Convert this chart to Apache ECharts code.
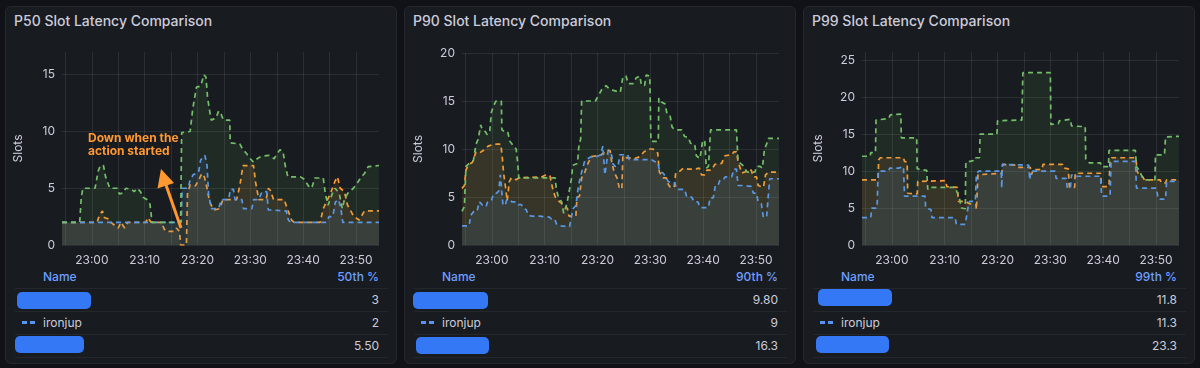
<!DOCTYPE html>
<html><head><meta charset="utf-8">
<script src="https://cdn.jsdelivr.net/npm/echarts@6/dist/echarts.min.js"></script>
<style>
html,body{margin:0;padding:0;background:#111217;width:1200px;height:368px;overflow:hidden;font-family:Inter,"Noto Sans",sans-serif;}
.panel{position:absolute;top:6px;width:392px;height:358px;box-sizing:border-box;background:#181b1f;border:1px solid #25282e;border-radius:6px;}
.abs{position:absolute;white-space:nowrap;}
.title{font-size:14px;font-weight:500;color:#ccccdc;line-height:16px;}
.hdr{font-size:12px;font-weight:500;color:#6e9fff;line-height:16px;}
.cell{font-size:12px;color:#ccccdc;line-height:16px;}
.sep{position:absolute;height:1px;background:#24272c;}
.redact{position:absolute;background:#3478f6;border-radius:5px;}
#chart{position:absolute;left:0;top:0;width:1200px;height:368px;}
</style></head>
<body>
<div id="root"></div>
<div id="chart"></div>
<script>
// ---------- DATA ----------
const titles = ['P50 Slot Latency Comparison', 'P90 Slot Latency Comparison', 'P99 Slot Latency Comparison'];
const statHeaders = ['50th %', '90th %', '99th %'];
const legendNames = ['', 'ironjup', ''];           // first and last names are redacted in the source
const legendValues = [['3', '2', '5.50'], ['9.80', '9', '16.3'], ['11.8', '11.3', '23.3']];
const yMax = [17, 20, 26.1];
const yAxisName = 'Slots';
const annotation = 'Down when the\naction started';
// time in minutes relative to 23:00
const timeRange = [-5.65, 54.35];

// P50
const p50Orange = [[-5.65,2],[1.0,2],[1.4,2.6],[2.0,3],[2.4,2.4],[3.2,2.3],[3.6,2.0],[4.4,1.7],[5.0,1.5],[5.5,2],[6.2,1.5],[6.8,2],[10.2,2],[10.6,2.4],[11.2,2],[13.2,2],[13.6,1.5],[14,1.2],[15.6,1.2],[16,1.5],[16.6,1.2],[16.8,0],[17.9,0],[18.1,4.5],[18.6,5.3],[19.6,5.2],[20.3,5.8],[20.8,6.3],[21.3,6.0],[21.8,5],[22.2,4],[22.6,3.5],[23.2,3.1],[24.2,3.2],[24.8,4],[27.4,4],[28,5.2],[28.6,7],[30.6,7],[31,5.5],[31.6,4],[33,4],[33.4,5],[33.8,4.8],[34.4,4],[36.4,4],[37,3.2],[37.8,2.2],[38.3,2],[43.2,2],[43.8,3.2],[44.6,4],[45.3,4.7],[46,5.6],[46.5,6],[47,5],[47.8,4.7],[48.4,3.5],[49,3],[49.6,2.5],[50.6,2.2],[51.6,3],[54.35,3]];
const p50Blue = [[-5.65,2],[16.9,2],[17.1,5],[18.2,5],[18.6,5.7],[19.2,6.2],[20.2,6.4],[20.6,7.5],[21.4,7.9],[21.8,7],[22.1,4.5],[22.6,3.2],[24.0,3.2],[24.5,4],[25.9,4],[26.2,4.9],[26.8,4.9],[27.1,4],[28.4,4],[28.7,3.2],[30.3,3.2],[30.6,4],[31.6,4],[32.2,4.7],[33.1,4.7],[33.4,3.1],[36.8,3],[37.2,2.2],[37.6,2],[44.4,2],[44.9,2.5],[45.6,2.5],[46.1,3.8],[46.7,4],[47.1,3.3],[47.5,2],[54.35,2]];
const p50Green = [[-5.65,2],[-2.3,2],[-2.0,4.2],[-1.7,5],[0.6,5],[1.2,6.5],[1.6,7],[2.2,7],[2.6,6],[3.0,5.5],[3.4,5],[4.8,5],[5.2,4.5],[6,4.6],[6.4,5],[7.5,4.9],[8.0,4.7],[8.6,5],[9.2,4.7],[9.7,4.2],[10.4,4],[11,3.6],[11.4,2],[16.8,2],[17,9.9],[18.6,10],[19.1,12],[19.8,13.9],[20.6,14],[21.2,15],[21.6,14.8],[21.9,13],[22.3,11.8],[22.6,11],[23.5,11.2],[24,11.8],[24.5,11.5],[24.9,11],[26.1,11],[26.2,9],[28,8.9],[28.6,8.4],[29.2,8.1],[30,7.6],[30.6,7.3],[31.3,7.6],[32,7.8],[33.5,7.9],[34.5,7.6],[35,8],[35.6,8.4],[36.2,8.2],[36.6,7],[37.1,6],[39.5,6],[40.2,5.8],[41,5.2],[41.6,5],[42.2,5.9],[43.8,5.9],[44.2,4.5],[44.7,3.5],[45.5,4.5],[46,5],[46.8,4.6],[47.4,3.2],[47.8,4],[48.5,4.6],[49.5,5],[50.3,5.5],[51,6],[51.6,6.3],[52.3,6.9],[54.35,7]];

// P90
const p90Orange = [[-5.65,5.9],[-5.2,6.2],[-4.9,7.8],[-4.4,8.4],[-3.7,8.6],[-3.0,9.7],[-2.3,9.6],[-1.5,9.9],[-0.7,10.3],[0.3,10.5],[1.7,10.5],[2.0,9],[2.2,7.6],[2.6,6],[2.9,4.6],[3.3,6.6],[3.7,7],[4.6,6.8],[5.2,7],[9.5,7.1],[10.2,7.3],[11.0,7.2],[11.5,5.9],[12.0,5],[12.8,4.5],[13.6,4.2],[14.3,3.8],[14.6,3],[15.9,3],[16.1,4.9],[16.6,5.1],[17.0,7],[17.6,7.6],[18.2,8.5],[18.8,9.2],[19.8,9.3],[20.7,9.4],[21.2,9.6],[21.9,9.9],[22.4,9.8],[22.7,8.6],[23.2,7.5],[23.7,7],[24.1,6],[24.6,5.8],[24.8,9.3],[25.2,9.1],[27.0,9],[28.0,9.2],[28.8,9.7],[29.6,10],[30.5,10],[30.9,9.7],[31.4,9.6],[31.7,7.6],[32.4,7.0],[33.0,7],[33.4,6.3],[33.8,6],[34.5,6],[34.8,7.5],[35.6,7.7],[36.2,8],[37.2,7.9],[38.4,7.9],[39.3,8],[39.7,7.3],[40.3,7.3],[40.7,7.8],[41.6,7.8],[42.2,8.4],[43.5,8.5],[44.1,9.3],[45.4,9.4],[45.8,9.7],[46.3,9.7],[46.6,8.7],[47.3,7.5],[47.9,7.6],[48.3,7.8],[49.1,7.8],[49.5,7.1],[50.1,7.1],[50.4,6.2],[51.4,6],[51.8,7.3],[52.4,7.6],[54.35,7.6]];
const p90Blue = [[-5.65,2],[-4.3,2],[-4.0,3.1],[-3.4,3.5],[-2.8,3.5],[-2.4,4.5],[-2.0,4.3],[-1.6,4],[-1.1,4],[-0.8,4.5],[-0.1,4.6],[0.3,5.3],[0.9,5.4],[1.3,5.6],[1.6,7.3],[1.9,7.2],[2.1,4.2],[2.5,4.1],[2.8,4.7],[3.3,4.7],[3.8,4.5],[4.6,4.5],[5.0,4.2],[5.6,4.2],[6.0,3.8],[6.5,3.7],[6.9,3.1],[7.6,3],[9.0,3],[10.9,2.9],[11.3,2.7],[11.9,2.7],[12.3,2.1],[13.1,2],[14.7,1.9],[15.0,2.8],[15.4,3.8],[15.9,4.1],[16.1,5],[16.4,6.2],[17.0,7.6],[17.6,8.8],[18.2,9],[18.8,9.2],[19.8,9.2],[20.6,9.4],[21.0,10.3],[21.3,10.2],[21.4,7.3],[21.6,7.5],[22.0,9.8],[22.6,9.6],[22.9,8.5],[23.3,8.2],[23.9,8.2],[24.2,9.4],[25.7,9.4],[26.0,8.9],[30.2,8.9],[30.8,8.7],[31.4,8.6],[31.8,7.6],[32.4,7.5],[32.8,7.2],[33.4,6.6],[34.6,6.5],[35.0,5.8],[36.5,5.8],[36.9,5],[37.8,5],[38.3,4.5],[39.0,4.5],[39.4,3.9],[41.0,3.9],[41.3,4.9],[41.9,4.9],[42.3,6.2],[42.8,6.2],[43.2,6.8],[43.8,6.8],[44.2,7.1],[45.4,7.1],[45.8,7.9],[46.3,7.9],[46.6,6.2],[47.4,6.2],[47.7,6.1],[49.1,6.1],[49.5,5.4],[50.1,5.4],[50.4,4.5],[51.0,4.3],[51.4,2.9],[52.0,2.9],[52.3,5],[52.6,6.9],[54.35,6.9]];
const p90Green = [[-5.65,3.5],[-5.2,4],[-4.9,8.2],[-4.5,8.4],[-3.5,8.8],[-3.0,10.5],[-2.6,11],[-2.1,12.5],[-1.8,12],[-1.2,11.8],[-0.9,11.5],[-0.4,11.8],[-0.1,13.8],[0.3,14.5],[0.8,15],[1.8,15],[1.9,12],[2.4,11.8],[3.0,11.8],[3.4,10.8],[4.0,10.4],[4.6,10],[4.9,8.5],[5.1,7],[12.0,7],[12.2,5.8],[12.6,5],[13.2,4.5],[13.6,3.3],[13.9,3.3],[14.2,4.3],[14.7,5.8],[15.1,7],[15.3,8.3],[16.2,8.5],[16.5,10.5],[16.8,11],[17.0,15],[19.6,15],[20.2,15.6],[20.8,16.2],[21.6,16.6],[22.2,16.3],[23.0,16.1],[24.3,15.9],[24.8,17.5],[25.4,17.6],[25.8,16.8],[26.8,16.8],[27.3,17.4],[28.0,17.6],[28.3,16.7],[28.9,16.6],[29.2,17.7],[29.9,17.6],[30.1,10.8],[31.5,10.8],[31.6,15.3],[32.1,14.9],[32.8,14.7],[33.1,13.8],[33.7,13.6],[34.1,12.3],[34.6,12],[35.9,12],[36.5,11.3],[37.2,11.2],[37.6,10.6],[38.4,10.5],[38.7,9.3],[39.4,9],[39.9,10.9],[40.3,10.8],[40.6,8],[41.0,8.2],[41.4,12],[46.3,12],[46.6,8.7],[47.5,8.3],[48.3,7.6],[49.8,7.6],[50.1,8.2],[50.8,8.2],[51.2,8],[51.6,10],[52.0,10.5],[52.3,11.1],[54.35,11.1]];

// P99
const p99Orange = [[-5.65,8.8],[-2.6,8.8],[-2.5,11.5],[-2.2,11.8],[2.2,11.8],[2.4,11.3],[2.9,11.2],[3.0,7.0],[4.8,6.9],[4.9,8.6],[10.2,8.7],[10.4,7.9],[12.4,7.8],[12.6,5.9],[14.0,5.9],[14.6,5.6],[15.9,5.5],[16.0,4.8],[16.2,4.8],[16.3,9.5],[16.6,9.7],[20.8,9.7],[21.0,10.9],[23.3,10.8],[23.6,10.5],[26.2,10.5],[26.4,9.5],[26.8,10.2],[28.4,10.2],[28.6,10.9],[32.3,10.9],[32.5,10.4],[33.4,10.3],[33.6,7.8],[34.6,7.8],[34.7,9.7],[39.5,9.7],[39.7,7.9],[41.1,7.9],[41.3,11.5],[41.6,11.8],[46.2,11.8],[46.4,10],[46.8,9.5],[47.5,9.2],[47.8,8.8],[50.8,8.8],[51.0,8.4],[51.8,8.4],[52.0,8.8],[54.35,8.8]];
const p99Blue = [[-5.65,3.7],[-4.0,3.7],[-3.8,5],[-2.8,5],[-2.6,10],[-0.6,10],[-0.4,10.4],[1.3,10.4],[1.5,10.6],[2.2,10.6],[2.4,6.6],[6.3,6.6],[6.4,5],[7.4,4.8],[7.6,3.7],[12.0,3.7],[12.2,2.8],[13.9,2.8],[14.4,5],[14.7,5.9],[15.8,5.9],[16.0,9.5],[16.4,10],[20.7,10],[20.8,7.7],[20.9,10.9],[25.9,10.8],[26.1,8.8],[26.3,10],[30.9,10],[31.1,9.0],[33.0,9.0],[33.2,7.7],[33.8,7.7],[34.0,9.5],[34.4,9.3],[39.5,9.3],[39.7,6.6],[41.3,6.6],[41.5,11.3],[46.1,11.3],[46.3,7.7],[50.1,7.7],[50.4,6.2],[51.8,6.2],[52.0,8.6],[54.35,8.6]];
const p99Green = [[-5.65,12],[-4.1,12],[-4.0,12.5],[-3.1,12.5],[-3.0,16.9],[-0.6,17.1],[-0.3,17.6],[1.7,17.7],[1.8,14.5],[4.7,14.5],[4.8,10.3],[6.6,10.1],[6.8,7.5],[7.3,7.8],[12.0,7.8],[12.3,7.2],[12.7,6.6],[13.2,5],[13.9,4.9],[14.0,11.2],[15.4,11.4],[15.5,11.8],[16.6,11.8],[16.7,15],[19.9,15],[20.0,16.8],[24.6,16.9],[24.8,23.3],[30.0,23.3],[30.1,16.3],[31.5,16.4],[31.7,16.8],[33.8,17],[34.0,16.1],[36.6,16],[36.7,11.6],[37.4,11.1],[39.5,11.1],[39.6,10.6],[41.0,10.6],[41.1,12.8],[46.1,12.8],[46.3,10.6],[46.7,10.2],[47.2,9.5],[47.7,8.8],[49.8,8.8],[49.9,12.2],[51.6,12.2],[51.8,14.6],[54.35,14.7]];

const panelSeries = [
  [p50Orange, p50Blue, p50Green],
  [p90Orange, p90Blue, p90Green],
  [p99Orange, p99Blue, p99Green]
];

// ---------- LAYOUT / STYLE ----------
const COLORS = ['#FF9830', '#5794F2', '#73BF69'];
const panelLeft = [5, 404, 803];
const plotLeft = [62, 462, 862];
const plotTop = [52, 53, 52];
const plotBottom = 245;
const plotWidth = 317;
const redactRects = [
  [[17,292,74,17],[15,336,69,17]],
  [[413,292,75,17],[416,337,73,17]],
  [[818,289,74,17],[816,336,73,17]]
];
const root = document.getElementById('root');
function el(cls, css, text) {
  const d = document.createElement('div');
  d.className = cls;
  Object.assign(d.style, css);
  if (text !== undefined) d.textContent = text;
  root.appendChild(d);
  return d;
}
for (let i = 0; i < 3; i++) {
  const pl = panelLeft[i];
  el('panel', {left: pl + 'px'});
  el('abs title', {left: (pl + 9) + 'px', top: '13px'}, titles[i]);
  el('abs hdr', {left: (pl + 38) + 'px', top: '269px'}, 'Name');
  el('abs hdr', {left: (pl + 274) + 'px', top: '269px', width: '100px', textAlign: 'right'}, statHeaders[i]);
  [288, 311, 334, 357].forEach(y => el('sep', {left: (pl + 10) + 'px', top: y + 'px', width: '373px'}));
  const rowY = [299.5, 322.5, 345.5];
  for (let r = 0; r < 3; r++) {
    el('abs cell', {left: (pl + 274) + 'px', top: (rowY[r] - 8) + 'px', width: '100px', textAlign: 'right'}, legendValues[i][r]);
    if (legendNames[r]) {
      el('abs cell', {left: (pl + 38) + 'px', top: (rowY[r] - 8) + 'px'}, legendNames[r]);
      el('abs', {left: (pl + 17) + 'px', top: (rowY[r] - 1.5) + 'px', width: '5px', height: '3px', background: COLORS[r]});
      el('abs', {left: (pl + 25) + 'px', top: (rowY[r] - 1.5) + 'px', width: '5px', height: '3px', background: COLORS[r]});
    }
  }
  redactRects[i].forEach(rc => el('redact', {left: rc[0] + 'px', top: rc[1] + 'px', width: rc[2] + 'px', height: rc[3] + 'px'}));
}

// ---------- CHART ----------
const base = new Date(2024, 0, 1, 23, 0, 0).getTime();
const toTs = m => base + m * 60000;
const pad = n => (n < 10 ? '0' : '') + n;
const grids = [], xAxes = [], yAxes = [], series = [];
const gridColor = 'rgba(240,250,255,0.09)';
for (let i = 0; i < 3; i++) {
  grids.push({left: plotLeft[i], top: plotTop[i], width: plotWidth, height: plotBottom - plotTop[i], containLabel: false});
  xAxes.push({
    type: 'time', gridIndex: i, min: toTs(timeRange[0]), max: toTs(timeRange[1]),
    minInterval: 600000, maxInterval: 600000,
    axisLine: {show: false}, axisTick: {show: false},
    splitLine: {show: true, showMinLine: false, showMaxLine: false, lineStyle: {color: gridColor, width: 1}},
    axisLabel: {
      color: '#ccccdc', fontSize: 12, fontFamily: 'Inter', margin: 9, hideOverlap: false,
      formatter: v => { const d = new Date(v); return (d.getMinutes() % 10 === 0 && d.getSeconds() === 0) ? pad(d.getHours()) + ':' + pad(d.getMinutes()) : ''; }
    }
  });
  const maxIsTick = yMax[i] % 5 === 0;
  yAxes.push({
    type: 'value', gridIndex: i, min: 0, max: yMax[i], interval: 5,
    name: yAxisName, nameLocation: 'middle', nameGap: 38,
    nameTextStyle: {color: '#ccccdc', fontSize: 12, fontFamily: 'Inter'},
    axisLine: {show: false}, axisTick: {show: false},
    splitLine: {show: true, showMaxLine: maxIsTick, lineStyle: {color: gridColor, width: 1}},
    axisLabel: {color: '#ccccdc', fontSize: 12, fontFamily: 'Inter', margin: 7, showMaxLabel: maxIsTick}
  });
  panelSeries[i].forEach((data, k) => {
    series.push({
      type: 'line', xAxisIndex: i, yAxisIndex: i, symbol: 'none', showSymbol: false, silent: true,
      data: data.map(p => [toTs(p[0]), p[1]]),
      lineStyle: {color: COLORS[k], width: 1.7, type: [5, 4]},
      itemStyle: {color: COLORS[k]},
      areaStyle: {color: COLORS[k], opacity: 0.1},
      z: 2 + k
    });
  });
}
const chart = echarts.init(document.getElementById('chart'), null, {renderer: 'canvas'});
chart.setOption({
  backgroundColor: 'transparent',
  animation: false,
  grid: grids, xAxis: xAxes, yAxis: yAxes, series: series,
  graphic: [
    {type: 'text', x: 88, y: 131.5, z: 10, style: {text: annotation, fill: '#FF9830', font: 'bold 12px Inter', lineHeight: 13.5}},
    {type: 'polygon', z: 10, shape: {points: [[161, 169], [157.5, 188.5], [174, 183]]}, style: {fill: '#FF9830'}},
    {type: 'line', z: 10, shape: {x1: 166, y1: 185, x2: 181, y2: 228}, style: {stroke: '#FF9830', lineWidth: 3}}
  ]
});
</script>
</body></html>
